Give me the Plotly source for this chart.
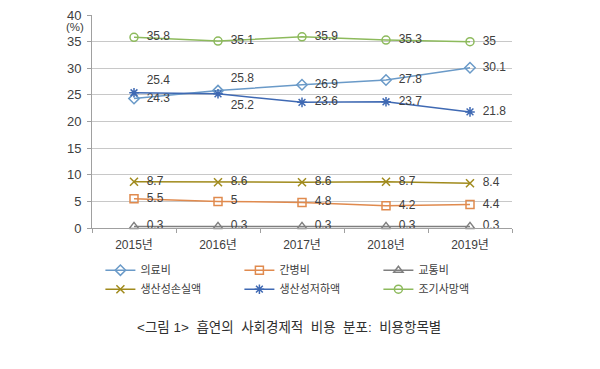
import plotly.graph_objects as go

years = ["2015년", "2016년", "2017년", "2018년", "2019년"]
medical = [24.3, 25.8, 26.9, 27.8, 30.1]
nursing = [5.5, 5.0, 4.8, 4.2, 4.4]
transport = [0.3, 0.3, 0.3, 0.3, 0.3]
prod_loss = [8.7, 8.6, 8.6, 8.7, 8.4]
prod_decline = [25.4, 25.2, 23.6, 23.7, 21.8]
early_death = [35.8, 35.1, 35.9, 35.3, 35.0]

names = ["의료비", "간병비", "교통비", "생산성손실액", "생산성저하액", "조기사망액"]
series = [medical, nursing, transport, prod_loss, prod_decline, early_death]
colors = ["#6A9AC8", "#E08A4E", "#7F7F7F", "#A08A1C", "#3F69B3", "#8DBA5C"]
symbols = ["diamond-open", "square-open", "triangle-up-open", "x-thin-open", "asterisk-open", "circle-open"]
positions = [
    ["middle right", "top right", "middle right", "middle right", "middle right"],
    ["middle right"] * 5,
    ["middle right"] * 5,
    ["middle right"] * 5,
    ["top right", "bottom right", "middle right", "middle right", "middle right"],
    ["middle right"] * 5,
]

def fmt(v):
    return "  " + (str(int(v)) if float(v).is_integer() else str(v))

fig = go.Figure()
for n, s, c, sym, pos in zip(names, series, colors, symbols, positions):
    fig.add_trace(go.Scatter(
        x=years, y=s, name=n, mode="lines+markers+text",
        line=dict(color=c, width=1.5),
        marker=dict(symbol=sym, size=8, color=c, line=dict(color=c, width=1.5)),
        text=[fmt(v) for v in s], textposition=pos,
        textfont=dict(size=12, color="#404040"),
        cliponaxis=False,
    ))

nb = "\u00a0"
caption = f"<그림 1>{nb}{nb}흡연의{nb}{nb}사회경제적{nb}{nb}비용{nb}{nb}분포:{nb}{nb}비용항목별"

fig.update_layout(
    width=600, height=369,
    margin=dict(l=92, r=88, t=15, b=141, autoexpand=False),
    plot_bgcolor="white", paper_bgcolor="white",
    font=dict(family="Liberation Sans, Noto Sans CJK KR, sans-serif", size=12, color="#404040"),
    xaxis=dict(type="category", range=[-0.5, 4.5], showgrid=False,
               showline=True, linecolor="#A0A0A0", ticks="outside", tickson="boundaries",
               ticklen=4, tickcolor="#A0A0A0", tickfont=dict(size=12),
               ticklabelstandoff=6),
    yaxis=dict(range=[0, 40], dtick=5, showgrid=True, gridcolor="#C8C8C8",
               showline=True, linecolor="#A0A0A0", zeroline=False,
               ticks="outside", ticklen=4, tickcolor="#A0A0A0", tickfont=dict(size=13),
               ticklabelstandoff=3),
    legend=dict(orientation="h", x=0.02, xanchor="left", y=-0.13, yanchor="top",
                entrywidth=94, itemwidth=30, font=dict(size=11, color="#404040"),
                traceorder="normal", tracegroupgap=0),
    showlegend=True,
    annotations=[
        dict(text="(%)", xref="paper", yref="paper", x=-0.015, y=0.943, xanchor="right",
             yanchor="middle", showarrow=False, font=dict(size=11.5, color="#404040")),
        dict(text=caption, xref="paper", yref="paper",
             x=0.47, y=-0.465, xanchor="center", yanchor="middle", showarrow=False,
             font=dict(size=13.5, color="#303030")),
    ],
)

fig.write_html("out.html", config={"displayModeBar": False},
               post_script="document.body.style.margin='0';")
